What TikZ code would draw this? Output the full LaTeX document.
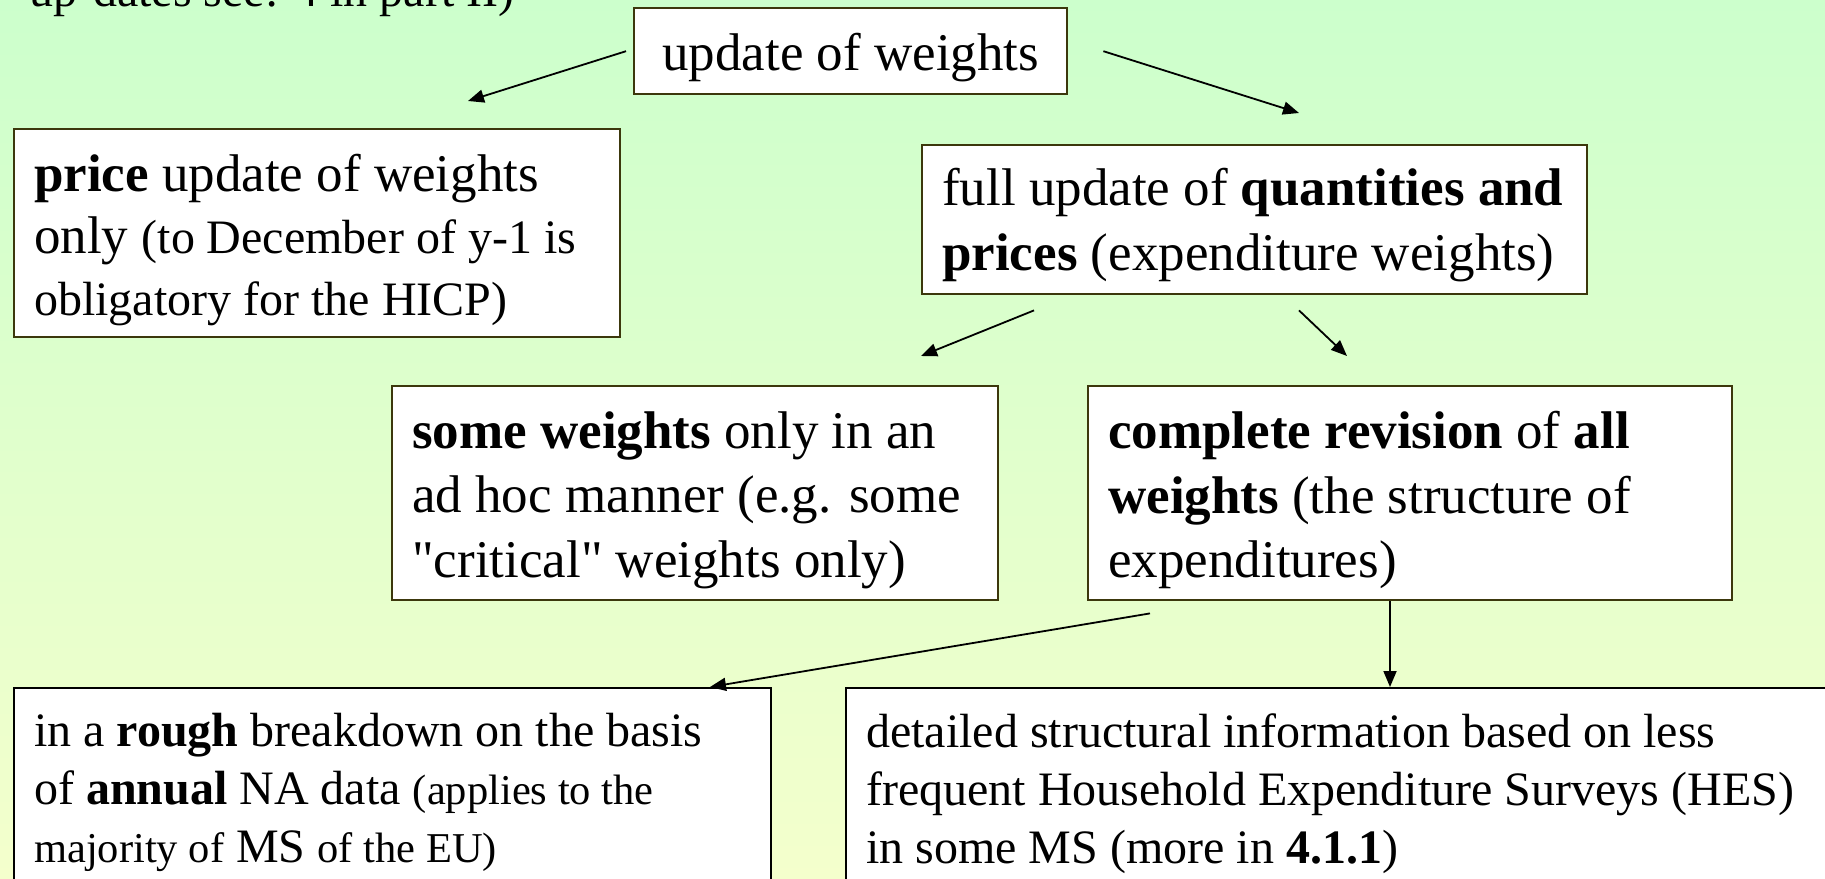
\documentclass[tikz,border=0pt]{standalone}
\usepackage{fontspec}
\setmainfont{Liberation Serif}[Ligatures=TeXOff]
\usetikzlibrary{arrows.meta,calc}
\definecolor{bgtop}{RGB}{204,255,204}
\definecolor{bgbot}{RGB}{244,255,204}
\definecolor{boxline}{RGB}{60,56,12}
\newcommand{\smallpart}[1]{{\fontsize{48}{62}\selectfont #1}}
\newcommand{\smallerpart}[1]{{\fontsize{42.5}{58}\selectfont #1}}
\begin{document}
\begin{tikzpicture}[x=1pt,y=-1pt,
  box/.style={draw=boxline, fill=white, line width=2.4pt, anchor=north west,
    inner xsep=20pt, inner ysep=0pt, align=left, font=\fontsize{53}{64}\selectfont,
    execute at begin node={\spaceskip=0pt\xspaceskip=0pt\rule{0pt}{#1}}},
  box/.default=51pt,
  lowbox/.style={draw=black, fill=white, line width=2.4pt, anchor=north west,
    inner xsep=20pt, inner ysep=25pt, align=left, font=\fontsize{48}{58}\selectfont,
    execute at begin node={\spaceskip=0pt\xspaceskip=0pt}},
  arr/.style={line width=1.8pt, -{Triangle[length=16pt,width=13pt]}}]

\useasboundingbox (0,0) rectangle (1825,878);
\clip (0,0) rectangle (1825,878);
\shade[top color=bgtop, bottom color=bgbot] (0,0) rectangle (1825,878);

% clipped note at the very top
\node[anchor=base west, inner sep=0pt, font=\fontsize{48}{58}\selectfont] (note) at (29,6) {up-dates see: 4 in part II)};

\node[box, minimum width=433pt, minimum height=86pt, align=center, text height=50pt, text depth=12pt] (upd) at (633,7) {update of weights};

\node[box, text width=566pt, minimum height=208pt, font=\fontsize{53}{62}\selectfont] (price) at (13,128)
  {\textbf{price} update of weights\\ only \smallpart{(to December of y-1 is}\\ \smallpart{obligatory for the HICP)}};

\node[box=49pt, text width=625pt, minimum height=149pt, font=\fontsize{53}{65}\selectfont] (full) at (921,144)
  {full update of \textbf{quantities and}\\ \textbf{prices} (expenditure weights)};

\node[box, text width=566pt, minimum height=214pt, font=\fontsize{53}{64.5}\selectfont] (some) at (391,385)
  {\textbf{some weights} only in an\\ ad hoc manner (e.g. some\\ "critical" weights only)};

\node[box, text width=604pt, minimum height=214pt, font=\fontsize{53}{64.5}\selectfont] (complete) at (1087,385)
  {\textbf{complete revision} of \textbf{all}\\ \textbf{weights} (the structure of\\ expenditures)};

\node[lowbox, text width=717pt] (rough) at (13,687)
  {in a \textbf{rough} breakdown on the basis\\ of \textbf{annual} NA data \smallerpart{(applies to the}\\ \smallerpart{majority of} MS \smallerpart{of the EU)}};

\node[lowbox, text width=990pt] (detail) at (845,687)
  {detailed structural information based on less\\ frequent Household Expenditure Surveys (HES)\\ in some MS (more in \textbf{4.1.1})};

% arrow end points
\coordinate (e1) at (468,101);
\coordinate (e2) at (1299,113);
\coordinate (e3) at (921,356);
\coordinate (e4) at (1347,356);

\draw[arr] ([xshift=-7pt]upd.west) -- (e1);
\draw[arr] ([xshift=35pt]upd.east) -- (e2);
\draw[arr] ([xshift=113pt,yshift=-15pt]full.south west) -- (e3);
\draw[arr] ([xshift=378pt,yshift=-15pt]full.south west) -- (e4);
\draw[arr] ([xshift=63pt,yshift=-12pt]complete.south west) -- ([xshift=697pt]rough.north west);
\draw[arr] ([xshift=303pt]complete.south west) coordinate (s6) -- (s6 |- detail.north);
\end{tikzpicture}
\end{document}
